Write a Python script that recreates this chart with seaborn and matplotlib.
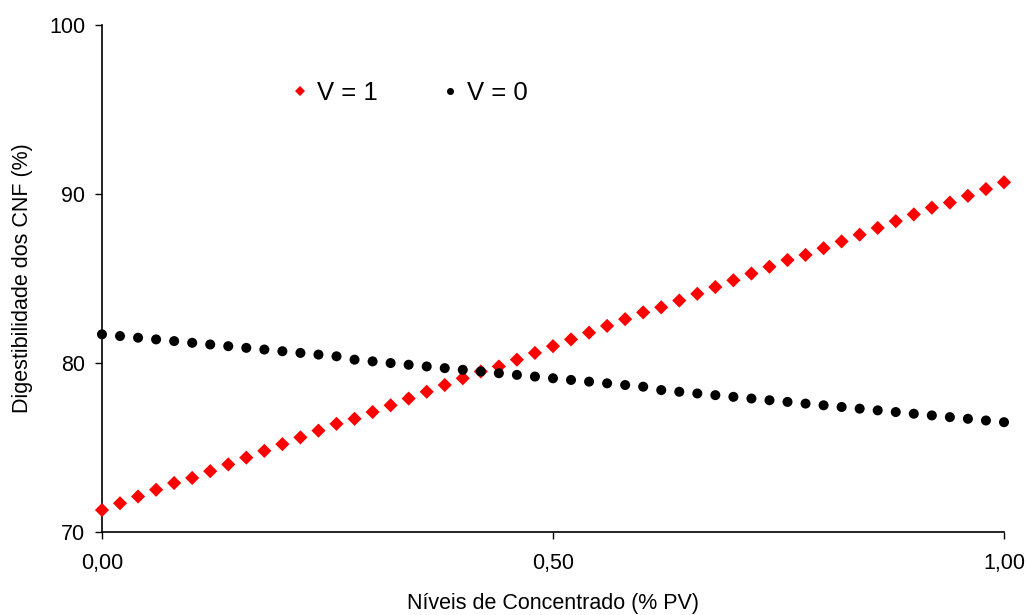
import pandas as pd
import numpy as np
import matplotlib.pyplot as plt
import seaborn as sns

# concentrate levels (% PV)
niveis = [0.00, 0.02, 0.04, 0.06, 0.08, 0.10, 0.12, 0.14, 0.16, 0.18,
          0.20, 0.22, 0.24, 0.26, 0.28, 0.30, 0.32, 0.34, 0.36, 0.38,
          0.40, 0.42, 0.44, 0.46, 0.48, 0.50, 0.52, 0.54, 0.56, 0.58,
          0.60, 0.62, 0.64, 0.66, 0.68, 0.70, 0.72, 0.74, 0.76, 0.78,
          0.80, 0.82, 0.84, 0.86, 0.88, 0.90, 0.92, 0.94, 0.96, 0.98,
          1.00]

# V = 1
dig_v1 = [71.3, 71.7, 72.1, 72.5, 72.9, 73.2, 73.6, 74.0, 74.4, 74.8,
          75.2, 75.6, 76.0, 76.4, 76.7, 77.1, 77.5, 77.9, 78.3, 78.7,
          79.1, 79.5, 79.8, 80.2, 80.6, 81.0, 81.4, 81.8, 82.2, 82.6,
          83.0, 83.3, 83.7, 84.1, 84.5, 84.9, 85.3, 85.7, 86.1, 86.4,
          86.8, 87.2, 87.6, 88.0, 88.4, 88.8, 89.2, 89.5, 89.9, 90.3,
          90.7]

# V = 0
dig_v0 = [81.7, 81.6, 81.5, 81.4, 81.3, 81.2, 81.1, 81.0, 80.9, 80.8,
          80.7, 80.6, 80.5, 80.4, 80.2, 80.1, 80.0, 79.9, 79.8, 79.7,
          79.6, 79.5, 79.4, 79.3, 79.2, 79.1, 79.0, 78.9, 78.8, 78.7,
          78.6, 78.4, 78.3, 78.2, 78.1, 78.0, 77.9, 77.8, 77.7, 77.6,
          77.5, 77.4, 77.3, 77.2, 77.1, 77.0, 76.9, 76.8, 76.7, 76.6,
          76.5]

x_ticks = [0.0, 0.5, 1.0]
x_ticklabels = ["0,00", "0,50", "1,00"]
y_ticks = [70, 80, 90, 100]

df = pd.DataFrame({
    "nivel": niveis + niveis,
    "dig": dig_v1 + dig_v0,
    "grupo": ["V = 1"] * len(dig_v1) + ["V = 0"] * len(dig_v0),
})

sns.set_style("white")
plt.rcParams['font.family'] = ['Liberation Sans', 'DejaVu Sans']
plt.rcParams['text.color'] = 'black'
plt.rcParams['axes.labelcolor'] = 'black'

fig = plt.figure(figsize=(10.27, 6.15), dpi=100)
ax = fig.add_axes([0.0993, 0.135, 0.8783, 0.824])

sns.scatterplot(data=df, x="nivel", y="dig", hue="grupo", style="grupo",
                palette={"V = 1": "#ff0000", "V = 0": "#000000"},
                markers={"V = 1": "D", "V = 0": "o"},
                s=52, linewidth=0, ax=ax, clip_on=False, zorder=3)

ax.set_xlim(0, 1)
ax.set_ylim(70, 100)
ax.set_xticks(x_ticks)
ax.set_xticklabels(x_ticklabels)
ax.set_yticks(y_ticks)
ax.tick_params(axis="both", direction="out", length=5, width=1,
               labelsize=15.5, colors="black", pad=7,
               bottom=True, left=True)
ax.tick_params(axis="x", pad=10)

for side in ["top", "right"]:
    ax.spines[side].set_visible(False)
for side in ["left", "bottom"]:
    ax.spines[side].set_color("black")
    ax.spines[side].set_linewidth(1.2)

ax.set_xlabel("Níveis de Concentrado (% PV)", fontsize=15.5, labelpad=14)
ax.set_ylabel("Digestibilidade dos CNF (%)", fontsize=15.5, labelpad=12)

leg = ax.legend(loc="upper left", bbox_to_anchor=(0.183, 0.935), ncol=2,
                frameon=False, fontsize=18.5, markerscale=0.7,
                handlelength=0.8, handletextpad=0.25, columnspacing=2.4)
for t in leg.get_texts():
    t.set_color("black")

fig.savefig("out.png", dpi=100)
